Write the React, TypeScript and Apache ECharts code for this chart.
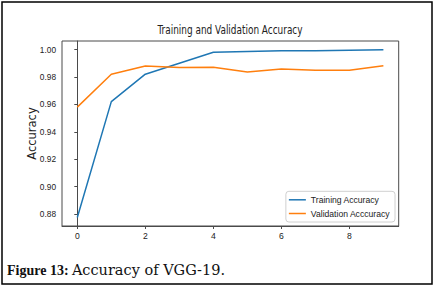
import React, { useEffect, useRef } from "react";
import * as echarts from "echarts";

const epochs = [0, 1, 2, 3, 4, 5, 6, 7, 8, 9];
const trainAcc = [0.8775, 0.962, 0.982, 0.990, 0.998, 0.9985, 0.999, 0.999, 0.9995, 0.9998];
const valAcc = [0.958, 0.982, 0.988, 0.9868, 0.987, 0.9836, 0.9857, 0.9848, 0.9848, 0.9881];
const xTicks = [0, 2, 4, 6, 8];
const yTicks = [0.88, 0.9, 0.92, 0.94, 0.96, 0.98, 1.0];
const seriesNames = ["Training Accuracy", "Validation Acccuracy"];
const chartTitle = "Training and Validation Accuracy";
const yName = "Accuracy";

const SANS = "'Liberation Sans', Arial, sans-serif";

export default function App() {
  const ref = useRef<HTMLDivElement>(null);
  useEffect(() => {
    if (!ref.current) return;
    const chart = echarts.init(ref.current, undefined, { renderer: "svg" });
    chart.setOption({
      animation: false,
      backgroundColor: "#fff",
      grid: {
        left: 62,
        top: 41,
        right: 41.3,
        bottom: 62,
        show: true,
        borderColor: "#4a4a4a",
        borderWidth: 1,
        containLabel: false,
      },
      legend: {
        orient: "vertical",
        right: 45,
        bottom: 66,
        data: seriesNames.map((n) => ({ name: n, icon: "rect" })),
        itemWidth: 17,
        itemHeight: 1.5,
        itemGap: 2.7,
        padding: [3, 5, 3, 3],
        borderColor: "#d0d0d0",
        borderWidth: 1,
        borderRadius: 3,
        backgroundColor: "rgba(255,255,255,0.8)",
        textStyle: { fontFamily: SANS, fontSize: 8.6, color: "#222", lineHeight: 11 },
      },
      xAxis: {
        type: "value",
        min: -0.45,
        max: 9.45,
        splitLine: { show: false },
        axisLine: { show: true, onZero: false, lineStyle: { color: "#4a4a4a", width: 1 } },
        axisTick: { show: true, length: 3, customValues: xTicks, lineStyle: { color: "#4a4a4a" } },
        axisLabel: {
          customValues: xTicks,
          margin: 5,
          fontFamily: SANS,
          fontSize: 8.6,
          color: "#222",
          formatter: (v: number) => String(v),
        },
      },
      yAxis: {
        type: "value",
        min: 0.8713,
        max: 1.0062,
        name: yName,
        nameLocation: "middle",
        nameGap: 24,
        nameMoveOverlap: false,
        nameTextStyle: { fontFamily: "'DejaVu Sans', sans-serif", fontSize: 11.5, color: "#222" },
        splitLine: { show: false },
        axisLine: { show: true, lineStyle: { color: "#4a4a4a", width: 1 } },
        axisTick: { show: true, length: 3, customValues: yTicks, lineStyle: { color: "#4a4a4a" } },
        axisLabel: {
          customValues: yTicks,
          margin: 6,
          fontFamily: SANS,
          fontSize: 8.3,
          color: "#222",
          formatter: (v: number) => v.toFixed(2),
        },
      },
      series: [
        {
          name: seriesNames[0],
          type: "line",
          data: epochs.map((e, i) => [e, trainAcc[i]]),
          showSymbol: false,
          lineStyle: { color: "#1f77b4", width: 1.5 },
          itemStyle: { color: "#1f77b4" },
        },
        {
          name: seriesNames[1],
          type: "line",
          data: epochs.map((e, i) => [e, valAcc[i]]),
          showSymbol: false,
          lineStyle: { color: "#ff7f0e", width: 1.5 },
          itemStyle: { color: "#ff7f0e" },
        },
      ],
      graphic: [
        {
          type: "rect",
          shape: { x: 2, y: 2, width: 430, height: 282 },
          style: { fill: "none", stroke: "#000", lineWidth: 1.5 },
          silent: true,
        },
        {
          type: "text",
          x: 230,
          y: 30,
          scaleX: 0.725,
          style: {
            text: chartTitle,
            align: "center",
            verticalAlign: "middle",
            fontFamily: "'DejaVu Sans', sans-serif",
            fontSize: 12.3,
            fill: "#222",
          },
        },
        {
          type: "text",
          x: 7,
          y: 270,
          style: {
            text: "{b|Figure 13:} {r|Accuracy of VGG-19.}",
            verticalAlign: "middle",
            rich: {
              b: { fontFamily: "'Liberation Serif', serif", fontWeight: "bold", fontSize: 14, fill: "#111" },
              r: { fontFamily: "'DejaVu Serif', serif", fontSize: 14.5, fill: "#111" },
            },
          },
        },
      ],
    });
    return () => chart.dispose();
  }, []);
  return (
    <div
      ref={ref}
      style={{ position: "absolute", left: 0, top: 0, width: 440, height: 288 }}
    />
  );
}
